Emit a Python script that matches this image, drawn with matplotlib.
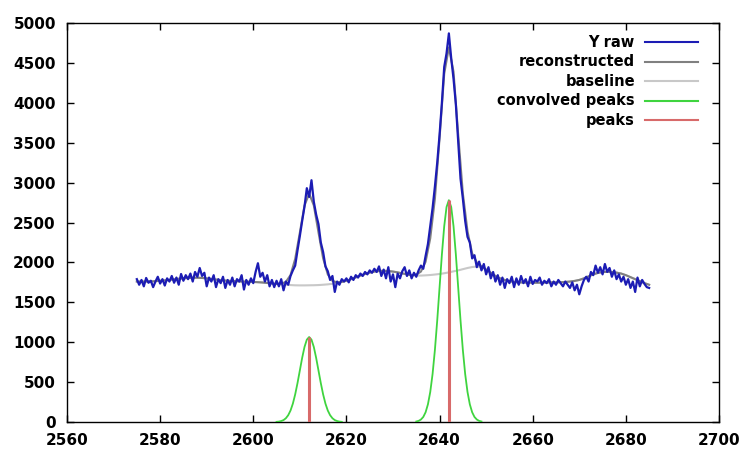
#!/usr/bin/env python3
import numpy as np
import matplotlib
matplotlib.use("Agg")
import matplotlib.pyplot as plt
from matplotlib.lines import Line2D


# raw signal, sampled every 0.5 from 2575 to 2685
RAW_START, RAW_STEP = 2575, 0.5
RAW_Y = [
    1790, 1720, 1780, 1700, 1805, 1745, 1770, 1690, 1760, 1820,
    1735, 1790, 1710, 1800, 1760, 1830, 1745, 1810, 1720, 1855,
    1770, 1840, 1790, 1860, 1760, 1880, 1820, 1930, 1830, 1870,
    1700, 1810, 1760, 1840, 1690, 1790, 1740, 1820, 1680, 1780,
    1720, 1810, 1700, 1790, 1760, 1840, 1660, 1780, 1720, 1800,
    1740, 1880, 1990, 1820, 1870, 1760, 1840, 1700, 1780, 1690,
    1770, 1700, 1790, 1650, 1760, 1720, 1830, 1900, 1960, 2150,
    2330, 2520, 2700, 2930, 2820, 3030, 2760, 2600, 2480, 2250,
    2130, 1950, 1890, 1780, 1830, 1630, 1760, 1720, 1790, 1760,
    1800, 1750, 1820, 1780, 1840, 1810, 1860, 1830, 1880, 1850,
    1900, 1870, 1920, 1880, 1950, 1830, 1910, 1800, 1940, 1760,
    1850, 1690, 1860, 1800, 1890, 1940, 1830, 1900, 1800, 1870,
    1820, 1900, 1960, 1920, 2080, 2230, 2450, 2680, 2950, 3250,
    3600, 4000, 4450, 4620, 4870, 4560, 4300, 3980, 3520, 3050,
    2800, 2520, 2320, 2250, 2050, 2090, 1940, 2010, 1900, 1980,
    1850, 1940, 1800, 1880, 1760, 1840, 1720, 1810, 1680, 1790,
    1740, 1820, 1690, 1800, 1720, 1830, 1740, 1790, 1700, 1820,
    1730, 1780, 1760, 1810, 1720, 1770, 1740, 1790, 1700, 1760,
    1720, 1780, 1740, 1700, 1760, 1720, 1680, 1750, 1650, 1720,
    1600, 1700, 1780, 1820, 1760, 1880, 1840, 1960, 1870, 1940,
    1850, 1980, 1880, 1930, 1820, 1900, 1790, 1850, 1760, 1820,
    1720, 1790, 1680, 1760, 1630, 1810, 1700, 1780, 1730, 1690,
    1680,
]

# smooth curves, one value per unit from 2575 to 2685
FIT_START = 2575
BASELINE = [
    1760, 1760, 1760, 1762, 1765, 1770, 1775, 1780, 1788, 1795,
    1800, 1805, 1808, 1808, 1805, 1800, 1792, 1785, 1778, 1772,
    1768, 1765, 1762, 1760, 1758, 1755, 1752, 1748, 1742, 1736,
    1730, 1725, 1720, 1716, 1713, 1712, 1712, 1713, 1714, 1716,
    1720, 1725, 1732, 1742, 1755, 1770, 1790, 1812, 1835, 1855,
    1872, 1885, 1892, 1895, 1892, 1885, 1875, 1862, 1850, 1840,
    1835, 1835, 1838, 1842, 1848, 1855, 1864, 1875, 1888, 1900,
    1915, 1930, 1942, 1948, 1940, 1910, 1870, 1830, 1800, 1780,
    1765, 1755, 1750, 1748, 1746, 1745, 1745, 1746, 1748, 1750,
    1750, 1752, 1755, 1760, 1768, 1780, 1800, 1825, 1850, 1868,
    1878, 1882, 1880, 1872, 1860, 1840, 1815, 1790, 1765, 1740,
    1720,
]
RECONSTRUCTED = [
    1760, 1760, 1760, 1762, 1765, 1770, 1775, 1780, 1788, 1795,
    1800, 1805, 1808, 1808, 1805, 1800, 1792, 1785, 1778, 1772,
    1768, 1765, 1762, 1760, 1758, 1755, 1752, 1748, 1742, 1736,
    1730, 1733, 1756, 1841, 2044, 2373, 2712, 2863, 2714, 2377,
    2051, 1850, 1768, 1750, 1755, 1770, 1790, 1812, 1835, 1855,
    1872, 1885, 1892, 1895, 1892, 1885, 1875, 1862, 1850, 1840,
    1847, 1885, 2008, 2302, 2798, 3555, 4364, 4695, 4388, 3600,
    2865, 2390, 2112, 1998, 1952, 1910, 1870, 1830, 1800, 1780,
    1765, 1755, 1750, 1748, 1746, 1745, 1745, 1746, 1748, 1750,
    1750, 1752, 1755, 1760, 1768, 1780, 1800, 1825, 1850, 1868,
    1878, 1882, 1880, 1872, 1860, 1840, 1815, 1790, 1765, 1740,
    1720,
]

# convolved peaks, every 0.5 around each peak
CONV1_START = 2605
CONV1_Y = [2, 5, 12, 24, 47, 85, 144, 230, 346, 488, 646, 804, 940, 1032, 1065,
           1032, 940, 804, 646, 488, 346, 230, 144, 85, 47, 24, 12, 5, 2]
CONV2_START = 2635
CONV2_Y = [6, 14, 31, 63, 122, 221, 376, 601, 903, 1273, 1686, 2098, 2453, 2694, 2780,
           2694, 2453, 2098, 1686, 1273, 903, 601, 376, 221, 122, 63, 31, 14, 6]

PEAK_X = [2612, 2642]
PEAK_H = [1065, 2780]

LABELS = ["Y raw", "reconstructed", "baseline", "convolved peaks", "peaks"]
COLORS = ["#1c1cb4", "#808080", "#c8c8c8", "#3fd43f", "#d86a6a"]

plt.rcParams["font.family"] = "DejaVu Sans"
plt.rcParams["font.weight"] = "bold"

fig = plt.figure(figsize=(7.45, 4.51), dpi=100)
ax = fig.add_axes([0.0899, 0.0643, 0.8752, 0.8847])

raw_x = RAW_START + RAW_STEP * np.arange(len(RAW_Y))
fit_x = FIT_START + np.arange(len(BASELINE))
c1_x = CONV1_START + 0.5 * np.arange(len(CONV1_Y))
c2_x = CONV2_START + 0.5 * np.arange(len(CONV2_Y))

ax.plot(raw_x, RAW_Y, color=COLORS[0], lw=1.6, zorder=4)
ax.plot(fit_x, RECONSTRUCTED, color=COLORS[1], lw=1.5, zorder=3)
ax.plot(fit_x, BASELINE, color=COLORS[2], lw=1.5, zorder=2)
ax.plot(c1_x, CONV1_Y, color=COLORS[3], lw=1.3, zorder=5)
ax.plot(c2_x, CONV2_Y, color=COLORS[3], lw=1.3, zorder=5)
ax.vlines(PEAK_X, 0, PEAK_H, color=COLORS[4], lw=2.2, zorder=6)

ax.set_xlim(2560, 2700)
ax.set_ylim(0, 5000)
ax.set_xticks(np.arange(2560, 2701, 20))
ax.set_yticks(np.arange(0, 5001, 500))
ax.tick_params(direction="in", length=5, width=1, top=True, right=True,
               labelsize=11, pad=8)
for s in ax.spines.values():
    s.set_linewidth(1.0)

# gnuplot-style key: labels right-aligned, line sample after the label
row_y = 0.952
for label, color in zip(LABELS, COLORS):
    ax.text(0.871, row_y, label, transform=ax.transAxes, ha="right", va="center",
            fontsize=10.5, fontweight="bold")
    ax.add_line(Line2D([0.887, 0.968], [row_y, row_y], transform=ax.transAxes,
                       color=color, lw=1.5, clip_on=False))
    row_y -= 0.049

fig.savefig("out.png", dpi=100)
